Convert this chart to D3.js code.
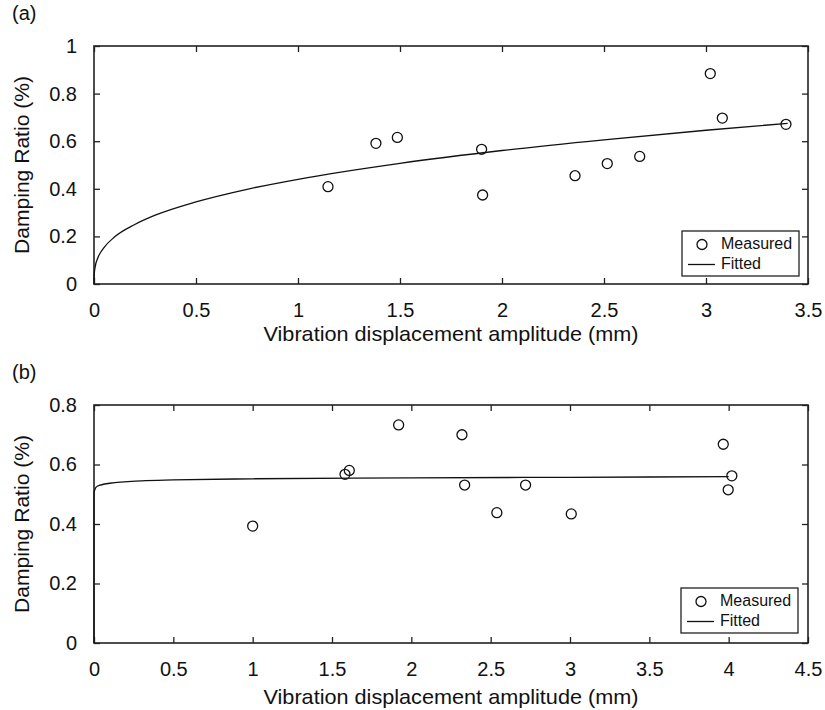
<!DOCTYPE html>
<html>
<head>
<meta charset="utf-8">
<script src="https://cdn.jsdelivr.net/npm/d3@7"></script>
<style>
  body { margin: 0; background: #fff; }
  svg { display: block; font-family: "Liberation Sans", Arial, sans-serif; }
</style>
</head>
<body>
<svg id="chart" width="825" height="710"></svg>
<script>
// ---- Panel (a) data ----
const measuredA_x = [1.147, 1.382, 1.487, 1.900, 1.905, 2.358, 2.516, 2.675, 3.021, 3.080, 3.392];
const measuredA_y = [0.409, 0.591, 0.616, 0.566, 0.374, 0.455, 0.506, 0.536, 0.884, 0.697, 0.671];
const fittedA_x = [0, 0.0005, 0.002, 0.005, 0.02, 0.05, 0.1, 0.2, 0.3, 0.5, 0.75, 1, 1.5, 2, 2.5, 3, 3.4];
const fittedA_y = [0, 0.032, 0.050, 0.069, 0.112, 0.154, 0.197, 0.250, 0.289, 0.345, 0.398, 0.440, 0.507, 0.561, 0.606, 0.646, 0.675];
const xTicksA = [0, 0.5, 1, 1.5, 2, 2.5, 3, 3.5];
const yTicksA = [0, 0.2, 0.4, 0.6, 0.8, 1];

// ---- Panel (b) data ----
const measuredB_x = [1.000, 1.582, 1.609, 1.920, 2.319, 2.336, 2.539, 2.720, 3.008, 3.966, 4.020, 3.997];
const measuredB_y = [0.393, 0.567, 0.580, 0.733, 0.700, 0.531, 0.438, 0.531, 0.434, 0.668, 0.562, 0.515];
const fittedB_x = [0, 0.0002, 0.001, 0.005, 0.02, 0.1, 0.3, 0.5, 1, 2, 3, 4];
const fittedB_y = [0, 0.500, 0.508, 0.515, 0.527, 0.537, 0.545, 0.548, 0.552, 0.555, 0.557, 0.559];
const xTicksB = [0, 0.5, 1, 1.5, 2, 2.5, 3, 3.5, 4, 4.5];
const yTicksB = [0, 0.2, 0.4, 0.6, 0.8];

const labelsPanel = ["(a)", "(b)"];
const xTitle = "Vibration displacement amplitude (mm)";
const yTitle = "Damping Ratio (%)";
const legendLabels = ["Measured", "Fitted"];

const svg = d3.select("#chart");
const fmt = d => (d === 0 ? "0" : String(d));

function panel(cfg) {
  const { left, right, top, bottom, xMax, yMax, xTicks, yTicks, mx, my, fx, fy, label, legend, xTitleOff } = cfg;
  const x = d3.scaleLinear().domain([0, xMax]).range([left, right]);
  const y = d3.scaleLinear().domain([0, yMax]).range([bottom, top]);
  const g = svg.append("g");
  const ink = "#222";
  const tick = 6;

  const ax = g.append("g").attr("transform", `translate(0,${bottom})`)
    .call(d3.axisBottom(x).tickValues(xTicks).tickFormat(fmt).tickSize(-tick).tickSizeOuter(0).tickPadding(19));
  const axT = g.append("g").attr("transform", `translate(0,${top})`)
    .call(d3.axisTop(x).tickValues(xTicks).tickFormat("").tickSize(-tick).tickSizeOuter(0));
  const ay = g.append("g").attr("transform", `translate(${left},0)`)
    .call(d3.axisLeft(y).tickValues(yTicks).tickFormat(fmt).tickSize(-tick).tickSizeOuter(0).tickPadding(17));
  const ayR = g.append("g").attr("transform", `translate(${right},0)`)
    .call(d3.axisRight(y).tickValues(yTicks).tickFormat("").tickSize(-tick).tickSizeOuter(0));

  [ax, axT, ay, ayR].forEach(a => {
    a.select(".domain").remove();
    a.selectAll(".tick line").attr("stroke", ink).attr("stroke-width", 1.3);
    a.selectAll(".tick text").attr("font-size", 20).attr("fill", "#111")
      .attr("font-family", "'Liberation Sans', Arial, sans-serif");
  });

  g.append("rect").attr("x", left).attr("y", top).attr("width", right - left).attr("height", bottom - top)
    .attr("fill", "none").attr("stroke", ink).attr("stroke-width", 1.6);

  const line = d3.line().x(d => x(d[0])).y(d => y(d[1])).curve(d3.curveMonotoneX);
  g.append("path").datum(fx.map((v, i) => [v, fy[i]])).attr("d", line)
    .attr("fill", "none").attr("stroke", "#111").attr("stroke-width", 1.3);

  g.selectAll("circle.m").data(mx.map((v, i) => [v, my[i]])).enter().append("circle")
    .attr("class", "m").attr("cx", d => x(d[0])).attr("cy", d => y(d[1])).attr("r", 5)
    .attr("fill", "none").attr("stroke", "#111").attr("stroke-width", 1.3);

  g.append("text").attr("x", (left + right) / 2).attr("y", bottom + xTitleOff)
    .attr("text-anchor", "middle").attr("font-size", 21).attr("fill", "#111")
    .attr("textLength", 375).attr("lengthAdjust", "spacingAndGlyphs").text(xTitle);
  g.append("text").attr("transform", `translate(${left - 65},${(top + bottom) / 2}) rotate(-90)`)
    .attr("text-anchor", "middle").attr("font-size", 21).attr("fill", "#111")
    .attr("textLength", 178).attr("lengthAdjust", "spacingAndGlyphs").text(yTitle);
  g.append("text").attr("x", 12).attr("y", top - 26).attr("font-size", 20).attr("fill", "#111").text(label);

  const L = legend;
  g.append("rect").attr("x", L.x).attr("y", L.y).attr("width", L.w).attr("height", L.h)
    .attr("fill", "#fff").attr("stroke", ink).attr("stroke-width", 1.3);
  g.append("circle").attr("cx", L.x + 20).attr("cy", L.y + 13.5).attr("r", 5)
    .attr("fill", "none").attr("stroke", "#111").attr("stroke-width", 1.3);
  g.append("line").attr("x1", L.x + 6).attr("x2", L.x + 33).attr("y1", L.y + 33.5).attr("y2", L.y + 33.5)
    .attr("stroke", "#111").attr("stroke-width", 1.3);
  g.append("text").attr("x", L.x + 39).attr("y", L.y + 18).attr("font-size", 16).attr("fill", "#111").text(legendLabels[0]);
  g.append("text").attr("x", L.x + 39).attr("y", L.y + 38).attr("font-size", 16).attr("fill", "#111").text(legendLabels[1]);
}

panel({ left: 94, right: 808, top: 46, bottom: 284, xMax: 3.5, yMax: 1,
  xTicks: xTicksA, yTicks: yTicksA, mx: measuredA_x, my: measuredA_y, fx: fittedA_x, fy: fittedA_y,
  label: labelsPanel[0], legend: { x: 682, y: 231, w: 117, h: 45 }, xTitleOff: 57 });

panel({ left: 94, right: 808, top: 405, bottom: 643, xMax: 4.5, yMax: 0.8,
  xTicks: xTicksB, yTicks: yTicksB, mx: measuredB_x, my: measuredB_y, fx: fittedB_x, fy: fittedB_y,
  label: labelsPanel[1], legend: { x: 681, y: 588, w: 117, h: 45 }, xTitleOff: 61 });
</script>
</body>
</html>
